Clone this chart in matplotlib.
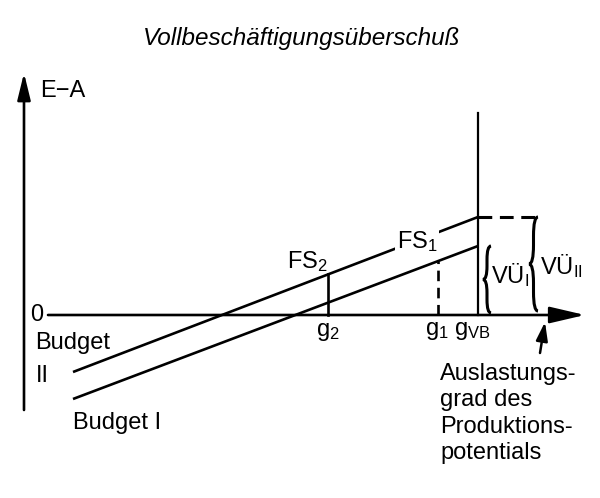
import numpy as np
import matplotlib
matplotlib.use('Agg')
import matplotlib.pyplot as plt
from matplotlib.path import Path
from matplotlib.patches import PathPatch

plt.rcParams['font.family'] = ['Liberation Sans', 'DejaVu Sans']
plt.rcParams['mathtext.fontset'] = 'custom'
plt.rcParams['mathtext.rm'] = 'Liberation Sans'
plt.rcParams['mathtext.it'] = 'Liberation Sans'

# schematic data (units: x = Auslastungsgrad, y = E-A), origin at axis crossing
budget_x = [49, 454]
budget_1 = [-84, 69]      # Budget I
budget_2 = [-57, 98]      # Budget II
g_2 = 304
g_1 = 414
g_vb = 454
y_axis_range = [-95, 242]
x_axis_range = [24, 561]
vb_top = 202

def brace(ax, x, y0, y1, w):
    # curly brace "{" with ends at x, tip pointing left
    ym = (y0 + y1) / 2
    q = (y1 - y0) * 0.2
    s = x - w / 2
    verts = [(x, y0), (s, y0), (s, y0 + q),
             (s, ym - q),
             (s, ym), (x - w, ym),
             (s, ym), (s, ym + q),
             (s, y1 - q),
             (s, y1), (x, y1)]
    codes = [Path.MOVETO, Path.CURVE3, Path.CURVE3,
             Path.LINETO,
             Path.CURVE3, Path.CURVE3,
             Path.CURVE3, Path.CURVE3,
             Path.LINETO,
             Path.CURVE3, Path.CURVE3]
    ax.add_patch(PathPatch(Path(verts, codes), fill=False, lw=2.2, color='k'))

fig = plt.figure(figsize=(6, 4.98), dpi=100)
ax = fig.add_axes([0, 0, 1, 1])
ax.set_xlim(-24, 576)
ax.set_ylim(-183, 315)
ax.axis('off')

lw = 1.9
# axes with arrows
ax.annotate('', xy=(0, y_axis_range[1]), xytext=(0, y_axis_range[0]),
            arrowprops=dict(arrowstyle='-|>,head_length=0.9,head_width=0.22',
                            lw=lw, color='k', mutation_scale=18, shrinkA=0, shrinkB=0))
ax.annotate('', xy=(x_axis_range[1], 0), xytext=(x_axis_range[0], 0),
            arrowprops=dict(arrowstyle='-|>,head_length=1.2,head_width=0.28',
                            lw=lw, color='k', mutation_scale=18, shrinkA=0, shrinkB=0))

# budget lines
ax.plot(budget_x, budget_1, color='k', lw=lw, solid_capstyle='butt')
ax.plot(budget_x, budget_2, color='k', lw=lw, solid_capstyle='butt')

# verticals
ax.plot([g_2, g_2], [0, np.interp(g_2, budget_x, budget_2)], color='k', lw=lw)
ax.plot([g_1, g_1], [0, np.interp(g_1, budget_x, budget_1)], color='k', lw=lw,
        ls=(0, (4, 2.5)))
ax.plot([g_vb, g_vb], [0, vb_top], color='k', lw=1.6)

# dashed line to VÜ_II brace
ax.plot([g_vb, 511], [budget_2[1], budget_2[1]], color='k', lw=2.2, ls=(0, (4.5, 2.5)))

brace(ax, 467, 2, budget_1[1], 8)
brace(ax, 514, 4, budget_2[1], 9)

fs = 17
ax.text(302 - 24, 315 - 38, 'Vollbeschäftigungsüberschuß', fontsize=17.5, style='italic',
        ha='center', va='center')
ax.text(16, 224, 'E−A', fontsize=fs, ha='left', va='center')
ax.text(13, 0, '0', fontsize=fs, ha='center', va='center')
ax.text(11, -28, 'Budget', fontsize=fs, ha='left', va='center')
ax.text(12, -61, 'II', fontsize=fs, ha='left', va='center')
ax.text(49, -108, 'Budget I', fontsize=fs, ha='left', va='center')
ax.text(283, 53, 'FS$_2$', fontsize=fs, ha='center', va='center')
ax.text(393, 73, 'FS$_1$', fontsize=fs, ha='center', va='center', zorder=5,
        bbox=dict(facecolor='white', edgecolor='none', pad=1))
ax.text(304, -17, 'g$_2$', fontsize=fs, ha='center', va='center')
ax.text(413, -16, 'g$_1$', fontsize=fs, ha='center', va='center')
ax.text(448, -16, 'g$_{VB}$', fontsize=fs, ha='center', va='center')
ax.text(467, 40, 'VÜ$_I$', fontsize=fs, ha='left', va='center')
ax.text(516, 49, 'VÜ$_{II}$', fontsize=fs, ha='left', va='center')

ax.annotate('', xy=(521, -7), xytext=(516, -38),
            arrowprops=dict(arrowstyle='-|>,head_length=0.8,head_width=0.25',
                            lw=1.8, color='k', mutation_scale=14, shrinkA=0, shrinkB=0))
ax.text(416, -48, 'Auslastungs-\ngrad des\nProduktions-\npotentials', fontsize=fs,
        ha='left', va='top', linespacing=1.25)

fig.savefig('out.png', dpi=100)
